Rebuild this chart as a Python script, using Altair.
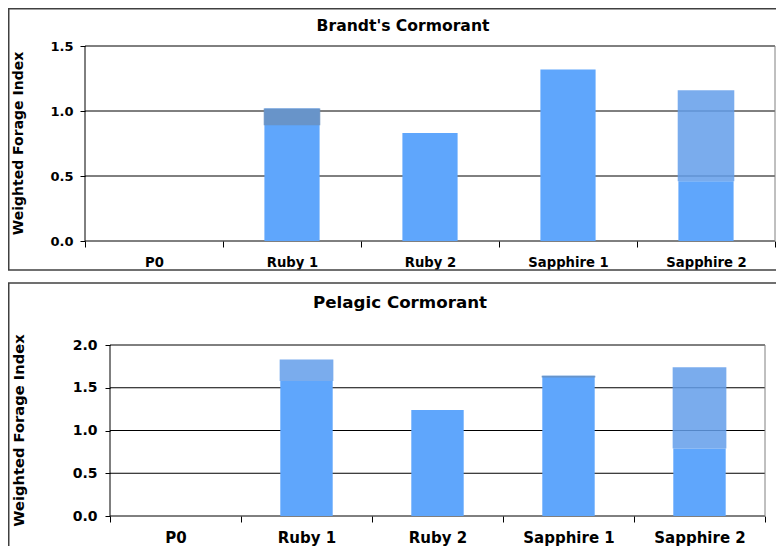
import altair as alt
import pandas as pd

categories = ["P0", "Ruby 1", "Ruby 2", "Sapphire 1", "Sapphire 2"]

# Brandt's Cormorant: bar value plus a shaded range (low..high)
brandt_value = [0.0, 1.02, 0.83, 1.32, 0.46]
brandt_low = [None, 0.89, None, None, 0.46]
brandt_high = [None, 1.02, None, None, 1.16]
brandt_ticks = [0.0, 0.5, 1.0, 1.5]

# Pelagic Cormorant
pelagic_value = [0.0, 1.58, 1.24, 1.64, 0.79]
pelagic_low = [None, 1.58, None, 1.62, 0.79]
pelagic_high = [None, 1.83, None, 1.64, 1.74]
pelagic_ticks = [0.0, 0.5, 1.0, 1.5, 2.0]

titles = ["Brandt's Cormorant", "Pelagic Cormorant"]
y_title = "Weighted Forage Index"

BAR = "#5fa6fc"
LIGHT = "#639dea"
DARK = "#6a91bf"
FRAME = "#404040"
BORDER = "#808080"
FONT = "DejaVu Sans"

W, H = 768, 538  # whole drawing area (page minus 8px margin)


def segments(values, lows, highs):
    rows = []
    for c, v, lo, hi in zip(categories, values, lows, highs):
        if lo is None:
            continue
        if lo < v:
            rows.append({"cat": c, "lo": lo, "hi": min(hi, v), "kind": "dark"})
        if hi > v:
            rows.append({"cat": c, "lo": max(lo, v), "hi": hi, "kind": "light"})
    return pd.DataFrame(rows)


def one():
    return pd.DataFrame({"f": [0]})


def rule_h(x1, x2, y, color=FRAME, w=1.5):
    return alt.Chart(one()).mark_rule(color=color, strokeWidth=w).encode(
        x=alt.value(x1), x2=alt.value(x2), y=alt.value(y)
    )


def rule_v(x, y1, y2, color=FRAME, w=1.5):
    return alt.Chart(one()).mark_rule(color=color, strokeWidth=w).encode(
        x=alt.value(x), y=alt.value(y1), y2=alt.value(y2)
    )


def panel(title, values, lows, highs, ticks, L):
    x0, x1, ytop, ybot = L["x0"], L["x1"], L["ytop"], L["ybot"]
    n = len(categories)
    step = (x1 - x0) / n
    outer = W - (x1 - x0)
    xs = alt.Scale(domain=categories, paddingInner=0, paddingOuter=outer / (2 * step),
                   align=x0 / outer)
    ymax = ticks[-1]
    f0 = 1 - ybot / H
    f1 = 1 - ytop / H
    span = ymax / (f1 - f0)
    d0 = -f0 * span
    ys = alt.Scale(domain=[d0, d0 + span], nice=False, zero=False)

    xaxis = alt.Axis(
        title=None, orient="bottom", offset=ybot - H, labelAngle=0, tickBand="extent",
        grid=False, domain=False, tickSize=6, labelPadding=L["xpad"], labelFont=FONT,
        labelFontWeight="bold", labelFontSize=L["xfs"], labelColor="black", tickColor="black",
    )
    yaxis = alt.Axis(
        title=None, orient="left", offset=-x0, values=ticks, format=".1f", grid=False,
        domain=False, tickSize=5, labelPadding=L["ypad"], labelFont=FONT,
        labelFontWeight="bold", labelFontSize=L["yfs"], labelColor="black", tickColor="black",
    )

    grid = alt.Chart(pd.DataFrame({"g": ticks})).mark_rule(color="black", strokeWidth=1).encode(
        y=alt.Y("g:Q", scale=ys, axis=None), x=alt.value(x0), x2=alt.value(x1),
    )
    bars = alt.Chart(pd.DataFrame({"cat": categories, "value": values})).mark_bar(
        color=BAR, width=alt.RelativeBandSize(0.4)
    ).encode(
        x=alt.X("cat:N", sort=categories, scale=xs, axis=xaxis),
        y=alt.Y("value:Q", scale=ys, axis=yaxis),
        y2=alt.datum(0),
    )
    seg = alt.Chart(segments(values, lows, highs)).mark_bar(
        width=alt.RelativeBandSize(0.41), opacity=0.85
    ).encode(
        x=alt.X("cat:N", sort=categories, scale=xs, axis=None),
        y=alt.Y("lo:Q", scale=ys, axis=None),
        y2="hi:Q",
        color=alt.Color("kind:N", scale=alt.Scale(domain=["dark", "light"], range=[DARK, LIGHT]),
                        legend=None),
    )
    ttl = alt.Chart(pd.DataFrame({"t": [title]})).mark_text(
        font=FONT, fontWeight="bold", fontSize=L["titfs"], color="black",
        align="center", baseline="middle",
    ).encode(text="t:N", x=alt.value(L["tx"]), y=alt.value(L["ty"]))
    ytl = alt.Chart(pd.DataFrame({"t": [y_title]})).mark_text(
        font=FONT, fontWeight="bold", fontSize=L["tfs"], color="black",
        align="center", baseline="middle", angle=270,
    ).encode(text="t:N", x=alt.value(L["ytx"]), y=alt.value((ytop + ybot) / 2))

    layers = [
        grid, bars, seg,
        rule_v(x0, ytop, ybot, "black", 1),
        rule_v(x1, ytop, ybot, BORDER, 1),
        ttl, ytl,
        rule_h(0, W, L["fy"]),
        rule_v(0.75, L["fy"], L["fy2"]),
    ]
    if L["fbottom"]:
        layers.append(rule_h(0, W, L["fy2"]))
    return layers


top_layers = panel(
    titles[0], brandt_value, brandt_low, brandt_high, brandt_ticks,
    dict(x0=77, x1=767, ytop=38, ybot=233, xpad=9, xfs=13.2, ypad=7, yfs=13, tfs=14,
         titfs=15.6, tx=395, ty=18, ytx=11, fy=0.75, fy2=262, fbottom=True),
)
bottom_layers = panel(
    titles[1], pelagic_value, pelagic_low, pelagic_high, pelagic_ticks,
    dict(x0=102, x1=757, ytop=337, ybot=508, xpad=8, xfs=15, ypad=8, yfs=14, tfs=14.7,
         titfs=16.7, tx=392, ty=295, ytx=12, fy=275, fy2=H, fbottom=False),
)

chart = alt.layer(*top_layers, *bottom_layers).resolve_scale(
    x="independent", y="independent"
).properties(
    width=W, height=H, padding=0, autosize=alt.AutoSizeParams(type="none")
).configure_view(strokeWidth=0)

chart.save("out.html", embed_options={"renderer": "svg", "actions": False})
